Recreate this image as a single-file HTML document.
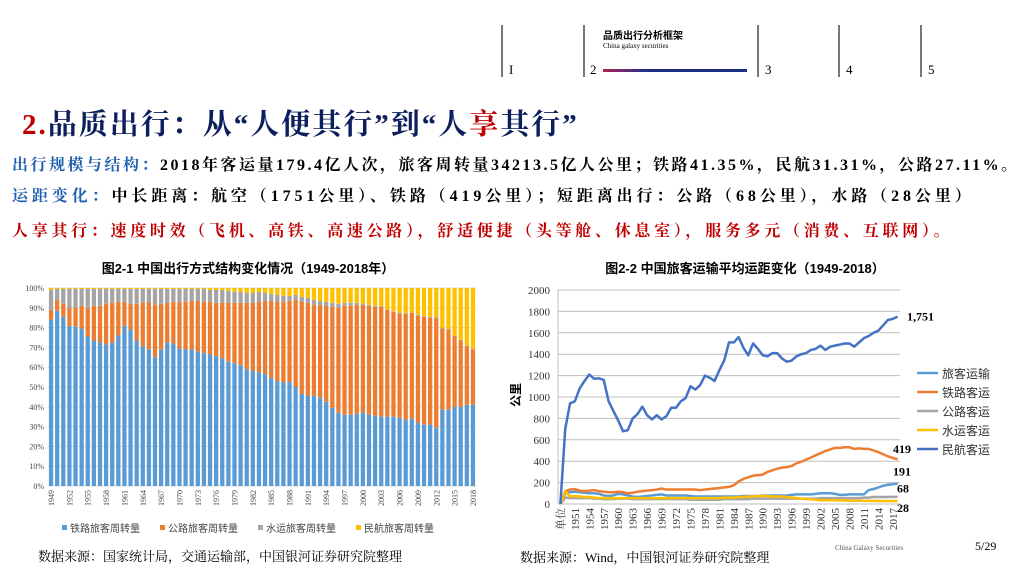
<!DOCTYPE html>
<html><head><meta charset="utf-8">
<style>
body{margin:0;width:1024px;height:576px;background:#fff;position:relative;overflow:hidden;font-family:"Liberation Serif","Noto Serif CJK SC",serif;}
.a{position:absolute;white-space:nowrap;}
.vl{position:absolute;top:25px;width:2px;height:52px;background:#777;}
.num{position:absolute;top:62px;font-size:13px;color:#000;}
.ln{font-family:"Liberation Serif","Noto Serif CJK SC",serif;font-size:16px;font-weight:bold;}
</style></head><body>
<div class="vl" style="left:501px"></div>
<div class="vl" style="left:583px"></div>
<div class="vl" style="left:757px"></div>
<div class="vl" style="left:838px"></div>
<div class="vl" style="left:920px"></div>
<div class="num" style="left:509px">I</div>
<div class="num" style="left:590px">2</div>
<div class="num" style="left:765px">3</div>
<div class="num" style="left:846px">4</div>
<div class="num" style="left:928px">5</div>
<div class="a" style="left:603px;top:27px;font-size:10px;font-weight:bold;font-family:'Noto Sans CJK SC',sans-serif;">品质出行分析框架</div>
<div class="a" style="left:603px;top:42px;font-size:7px;">China galaxy securities</div>
<div class="a" style="left:603px;top:69px;width:144px;height:3px;background:linear-gradient(90deg,#b0245a,#1e2f88 30%,#1e2f88);"></div>

<div class="a" style="left:22px;top:102px;font-size:29px;letter-spacing:2px;font-weight:bold;color:#0c1f5c;font-family:'Liberation Serif','Noto Serif CJK SC',serif;"><span style="color:#c00000">2.</span>品质出行：从“人便其行”到“人<span style="color:#c00000">享</span>其行”</div>
<div class="a ln" style="left:12px;top:152px;letter-spacing:2.5px;"><span style="color:#1f5fb0">出行规模与结构：</span>2018年客运量179.4亿人次，旅客周转量34213.5亿人公里；铁路41.35%，民航31.31%，公路27.11%。</div>
<div class="a ln" style="left:12px;top:183px;letter-spacing:3.9px;"><span style="color:#1f5fb0">运距变化：</span>中长距离：航空（1751公里）、铁路（419公里）；短距离出行：公路（68公里），水路（28公里）</div>
<div class="a ln" style="left:12px;top:218px;letter-spacing:3.7px;color:#c00000;">人享其行：速度时效（飞机、高铁、高速公路），舒适便捷（头等舱、休息室），服务多元（消费、互联网）。</div>

<svg class="a" style="left:0;top:0" width="1024" height="576" id="svg">
<text x="248" y="273" font-size="13" font-weight="bold" text-anchor="middle" font-family="Liberation Sans,Noto Sans CJK SC,sans-serif">图2-1 中国出行方式结构变化情况（1949-2018年）</text>
<text x="745" y="273" font-size="13" font-weight="bold" text-anchor="middle" font-family="Liberation Sans,Noto Sans CJK SC,sans-serif">图2-2 中国旅客运输平均运距变化（1949-2018）</text>
<g id="c1"></g><g id="c2"></g>
<text x="38" y="561" font-size="13" font-family="Liberation Serif,Noto Serif CJK SC,serif">数据来源：国家统计局，交通运输部，中国银河证券研究院整理</text>
<text x="520" y="562" font-size="13" font-family="Liberation Serif,Noto Serif CJK SC,serif">数据来源：Wind，中国银河证券研究院整理</text>
<text x="835" y="550" font-size="7" fill="#555">China Galaxy Securities</text>
<text x="975" y="550" font-size="12">5/29</text>
</svg>
<script>
const years1 = [];for(let y=1949;y<=2018;y++)years1.push(y);
const railShare=[84,88.5,85.5,81,80.5,79.5,75.5,73.5,72.5,71.5,72.5,76,81,79,73.5,70.5,69,65,69,72.5,72,69.5,69,69,68,67,66.5,65.5,64.5,63,62,61,59,58,57.5,56.5,54.5,53,52.5,52.5,50,46.5,45.5,45.5,44.5,42.5,39.5,37,36,36,36.5,37,36,35.5,35,35,35,34.5,33.5,34,32,31,31,29.5,38.5,38.5,40,40,41,41];
const roadShare=[5,5.5,6.5,9,9.5,11.5,14.5,17.5,18.5,20.5,20,17,12,13,18.5,22,24,26.5,23,20,21,23.5,24,24.5,25.5,26,26.5,27,28,29.5,30.5,31.5,33.5,34.5,35.5,37,39,40,40.5,41,44,46.5,47,46,47,48.5,51,53,55,55,55,54.5,55,55,55.5,54,53,52.5,53.5,53.5,54,54.5,54,55.5,41,40.5,35.5,33.5,29.5,28];
const waterShare=[10,5.5,7.5,9.5,9.5,8.5,9.5,8.5,8.5,7.5,7,6.5,6.5,7.5,7.5,7,6.5,8,7.5,7,6.5,6.5,6.5,6,6,6.5,6,6.5,6.5,6,5.5,5.5,5,5,5,4,3.5,3.5,3,2.5,2.5,2.5,2.5,2.5,2,2,2,2,1.5,1.5,1,0.5,0.5,0.5,0.3,0.2,0.3,0.6,0.3,0.2,0.5,0.3,0.4,0.3,0.3,0.3,0.3,0.3,0.5,0.3];
const pctTicks=["0%","10%","20%","30%","40%","50%","60%","70%","80%","90%","100%"];

const cats2=["单位"];for(let y=1949;y<=2018;y++)cats2.push(String(y));
const totalDist=[0,100,110,115,110,105,100,100,95,80,75,80,95,90,80,70,65,70,75,80,85,90,80,80,80,80,80,75,70,70,70,70,70,70,70,70,70,70,75,75,75,75,80,80,80,80,80,80,85,90,90,90,90,95,100,100,100,95,85,85,90,90,90,90,130,140,155,170,180,185,191];
const railDist=[0,120,135,140,125,120,125,130,120,115,110,110,115,110,100,105,115,120,125,130,135,145,135,135,135,135,135,135,135,130,135,140,145,150,155,160,175,210,235,250,265,270,275,300,315,330,340,345,355,380,395,415,435,455,475,495,510,525,525,530,530,515,520,515,515,500,485,465,445,430,419];
const roadDist=[0,60,55,55,55,55,55,50,50,45,45,45,50,50,50,45,45,45,45,45,45,45,45,45,45,45,45,40,40,40,40,40,40,40,45,45,45,45,45,45,50,50,50,50,50,50,50,50,50,50,50,50,50,50,55,55,55,55,55,55,55,55,55,60,60,65,65,65,66,67,68];
const waterDist=[0,120,70,75,70,65,65,60,55,55,55,55,55,55,55,55,55,55,55,55,55,55,55,55,55,55,55,55,55,55,55,55,55,55,60,60,60,65,65,70,70,75,75,75,70,70,70,65,60,55,50,45,45,40,35,35,35,35,33,33,32,30,30,30,29,29,28,28,28,28,28];
const airDist=[0,700,940,960,1080,1150,1210,1170,1175,1160,960,870,780,680,690,800,840,910,830,790,830,790,820,900,900,960,990,1100,1070,1110,1200,1180,1150,1250,1340,1510,1510,1560,1460,1390,1500,1450,1390,1380,1410,1410,1360,1330,1340,1380,1400,1410,1440,1450,1480,1440,1470,1480,1490,1500,1500,1470,1510,1550,1570,1600,1620,1670,1720,1730,1751];
const distTicks=[0,200,400,600,800,1000,1200,1400,1600,1800,2000];
const seriesNames=["旅客运输","铁路客运","公路客运","水运客运","民航客运"];

const NS="http://www.w3.org/2000/svg";
function mk(p,t,a,txt){const e=document.createElementNS(NS,t);for(const k in a)e.setAttribute(k,a[k]);if(txt!==undefined)e.textContent=txt;p.appendChild(e);return e;}
const c1=document.getElementById('c1');
const L1=48,R1=476,T1=288,B1=486;
const bw=(R1-L1)/years1.length;
const x1=i=>L1+i*bw;
const y1=v=>B1-(v/100)*(B1-T1);
pctTicks.forEach((t,i)=>{const v=i*10;
 const g=mk(c1,'line',{x1:L1,x2:R1,y1:y1(v),y2:y1(v),stroke:'#d9d9d9','stroke-width':1});
 
 const t2=mk(c1,'text',{x:L1-4,y:y1(v)+3,'font-size':8,'text-anchor':'end',fill:'#444'},t);
 });
const cols1=['#5b9bd5','#ed7d31','#a5a5a5','#ffc000'];
years1.forEach((yr,i)=>{
 const vals=[railShare[i],roadShare[i],waterShare[i]];
 let cum=0;const x=x1(i)+bw*0.15,w=bw*0.7;
 vals.forEach((v,k)=>{const r=mk(c1,'rect',{x:x,y:y1(cum+v),width:w,height:y1(cum)-y1(cum+v),fill:cols1[k]});
  cum+=v;});
 const r=mk(c1,'rect',{x:x,y:y1(100),width:w,height:Math.max(0,y1(cum)-y1(100)),fill:cols1[3]});
 
 if(i%3===0){const cx=x1(i)+bw/2+3;const t=mk(c1,'text',{x:cx,y:490,'font-size':8,'text-anchor':'end',transform:`rotate(-90 ${cx} 490)`,fill:'#444'},yr);
  }
});
["铁路旅客周转量","公路旅客周转量","水运旅客周转量","民航旅客周转量"].forEach((n,k)=>{
 const lx=62+k*98;
 const r=mk(c1,'rect',{x:lx,y:525,width:5,height:5,fill:cols1[k]});
 const t=mk(c1,'text',{x:lx+8,y:532,'font-size':10,fill:'#444','font-family':'Noto Sans CJK SC,sans-serif'},n);
 });
const c2=document.getElementById('c2');
const L2=558,R2=900,T2=290,B2=504;
const cw=(R2-L2)/cats2.length;
const x2=i=>L2+(i+0.5)*cw;
const y2=v=>B2-(v/2000)*(B2-T2);
distTicks.forEach(v=>{
 const g=mk(c2,'line',{x1:L2,x2:R2,y1:y2(v),y2:y2(v),stroke:'#bfbfbf','stroke-width':1});
 
 const t=mk(c2,'text',{x:L2-8,y:y2(v)+4,'font-size':11,'text-anchor':'end',fill:'#333'},v);
 });
const ax=mk(c2,'line',{x1:L2,x2:L2,y1:T2,y2:B2,stroke:'#bfbfbf'});
const yt=mk(c2,'text',{x:520,y:395,'font-size':12,'font-weight':'bold','text-anchor':'middle',transform:'rotate(-90 520 395)','font-family':'Noto Sans CJK SC,sans-serif'},'公里');

cats2.forEach((c,i)=>{if(i%3===0){const cx=x2(i)+4;const t=mk(c2,'text',{x:cx,y:508,'font-size':11,'text-anchor':'end',transform:`rotate(-90 ${cx} 508)`,fill:'#333'},c);
 }});
const cols2=['#5b9bd5','#ed7d31','#a5a5a5','#ffc000','#4472c4'];
[totalDist,railDist,roadDist,waterDist,airDist].forEach((arr,k)=>{
 const p=mk(c2,'polyline',{points:arr.map((v,i)=>x2(i)+','+y2(v)).join(' '),fill:'none',stroke:cols2[k],'stroke-width':2.5,'stroke-linejoin':'round'});
 
 const ly=373+k*19;
 const l=mk(c2,'line',{x1:917,x2:938,y1:ly,y2:ly,stroke:cols2[k],'stroke-width':2.5});
 const t=mk(c2,'text',{x:942,y:ly+5,'font-size':12,fill:'#333','font-family':'Noto Sans CJK SC,sans-serif'},seriesNames[k]);
 
});
const last=cats2.length-1;
[[airDist[last].toLocaleString('en-US'),907,y2(airDist[last])+4],[railDist[last],893,y2(railDist[last])-6],[totalDist[last],893,y2(totalDist[last])-8],[roadDist[last],897,y2(roadDist[last])-4],[waterDist[last],897,y2(waterDist[last])+11]].forEach(a=>{
 const t=mk(c2,'text',{x:a[1],y:a[2],'font-size':12,'font-weight':'bold'},a[0]);
 });
</script>
</body></html>
